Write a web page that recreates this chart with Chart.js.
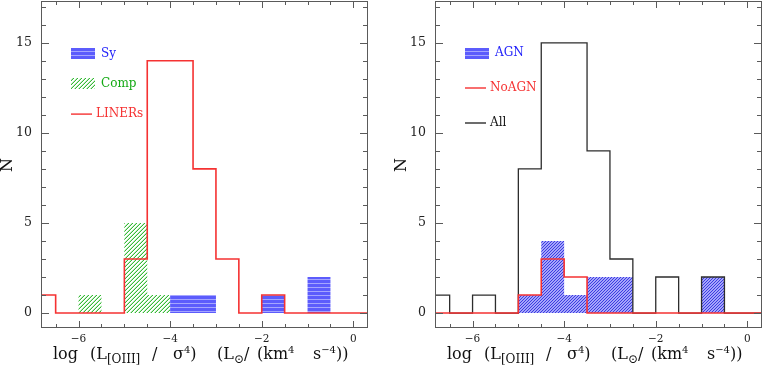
<!DOCTYPE html>
<html><head><meta charset="utf-8">
<script src="https://cdn.jsdelivr.net/npm/chart.js@4/dist/chart.umd.min.js"></script>
<style>
html,body{margin:0;padding:0;background:#fff;}
#wrap{position:relative;width:763px;height:369px;overflow:hidden;background:#fff;}
canvas{position:absolute;top:0;display:block;}
.xt{position:absolute;top:344px;width:330px;height:24px;font-family:"DejaVu Serif";font-size:16px;line-height:20px;white-space:pre;color:#111;}
.xt span{position:absolute;top:0;}
.xt sub{font-size:12px;vertical-align:-4px;line-height:0;}
.xt sup{font-size:10px;vertical-align:6px;line-height:0;}
.yt{position:absolute;top:155px;font-family:"DejaVu Serif";font-size:16px;line-height:20px;color:#111;transform:translateX(-50%) rotate(-90deg);}
</style></head>
<body>
<div id="wrap">
<canvas id="c1" width="394" height="369" style="left:0"></canvas>
<canvas id="c2" width="369" height="369" style="left:394px"></canvas>
<div class="yt" style="left:7px">N</div>
<div class="yt" style="left:401px">N</div>
<div class="xt" style="left:41px"><span style="left:12px">log</span><span style="left:49px">(L<sub>[OIII]</sub></span><span style="left:111px">/</span><span style="left:132px">σ<sup>4</sup>)</span><span style="left:176px">(L<sub>⊙</sub>/</span><span style="left:216px">(km<sup>4</sup></span><span style="left:272px">s<sup>−4</sup>))</span></div>
<div class="xt" style="left:435px"><span style="left:12px">log</span><span style="left:49px">(L<sub>[OIII]</sub></span><span style="left:111px">/</span><span style="left:132px">σ<sup>4</sup>)</span><span style="left:176px">(L<sub>⊙</sub>/</span><span style="left:216px">(km<sup>4</sup></span><span style="left:272px">s<sup>−4</sup>))</span></div>
</div>
<script>
// ---- data ----
const binEdges = [-7,-6.5,-6,-5.5,-5,-4.5,-4,-3.5,-3,-2.5,-2,-1.5,-1,-0.5,0,0.5];
const syCounts    = [0,0,0,0,0,0,1,1,0,0,1,0,2,0,0];
const compCounts  = [0,0,1,0,5,1,0,0,0,0,0,0,0,0,0];
const linerCounts = [1,0,0,0,3,14,14,8,3,0,1,0,0,0,0];
const agnCounts   = [0,0,0,0,1,4,1,2,2,0,0,0,2,0,0];
const noAgnCounts = [0,0,0,0,1,3,2,0,0,0,0,0,0,0,0];
const allCounts   = [1,0,1,0,8,15,15,9,3,0,2,0,2,0,0];
const xTickValues = [-6,-4,-2,0];
const yTickValues = [0,5,10,15];
const leftLabels  = ['Sy','Comp','LINERs'];
const rightLabels = ['AGN','NoAGN','All'];

function steps(counts){
  return binEdges.map((e,i)=>({x:e, y:counts[Math.min(i,counts.length-1)]}));
}

// ---- patterns ----
function makePattern(w,h,fn){
  const c=document.createElement('canvas'); c.width=w; c.height=h;
  const g=c.getContext('2d'); const img=g.createImageData(w,h);
  for(let y=0;y<h;y++)for(let x=0;x<w;x++){
    const col=fn(x,y); const k=(y*w+x)*4;
    img.data[k]=col[0];img.data[k+1]=col[1];img.data[k+2]=col[2];img.data[k+3]=col[3];
  }
  g.putImageData(img,0,0);
  return document.createElement('canvas').getContext('2d').createPattern(c,'repeat');
}
const stripePat = makePattern(4,4,(x,y)=> y===3?[165,165,255,255]:[92,92,252,255]);
const greenPat  = makePattern(4,4,(x,y)=> ((x+y)%4===3)?[55,185,55,255]:(((x+y)%4===2)?[190,235,190,255]:[255,255,255,0]));
const agnPat    = makePattern(3,3,(x,y)=> ((x+y)%3===2)?[60,60,225,255]:[165,165,250,255]);

const RED='rgb(245,50,50)', BLACK='rgb(45,45,45)';

// ---- plugins ----
const framePlugin={
  id:'frame',
  afterDraw(chart){
    const {ctx,chartArea:a,scales:{x,y}}=chart;
    ctx.save();
    ctx.strokeStyle='#5a5a5a'; ctx.lineWidth=1;
    ctx.strokeRect(Math.round(a.left)+0.5,Math.round(a.top)+0.5,Math.round(a.right-a.left)-1,Math.round(a.bottom-a.top)-1);
    ctx.beginPath();
    for(let v=Math.ceil(x.min*2)/2; v<=x.max; v+=0.5){
      const px=Math.round(x.getPixelForValue(v))+0.5;
      const len=(Math.abs(v%2)<1e-9)?7:4;
      ctx.moveTo(px,a.bottom); ctx.lineTo(px,a.bottom-len);
      ctx.moveTo(px,a.top); ctx.lineTo(px,a.top+len);
    }
    for(let v=Math.ceil(y.min); v<=y.max; v+=1){
      const py=Math.round(y.getPixelForValue(v))+0.5;
      const len=(v%5===0)?8:5;
      ctx.moveTo(a.left,py); ctx.lineTo(a.left+len,py);
      ctx.moveTo(a.right,py); ctx.lineTo(a.right-len,py);
    }
    ctx.stroke();
    ctx.restore();
  }
};
const legendPlugin={
  id:'histLegend',
  afterDraw(chart,args,opts){
    const {ctx,chartArea:a}=chart;
    ctx.save();
    ctx.font='12px "DejaVu Serif"'; ctx.textBaseline='middle';
    chart.data.datasets.forEach((ds,i)=>{
      const cy=a.top+opts.y0+i*opts.dy, x0=a.left+opts.x;
      if(ds.legendKind==='box'){
        ctx.fillStyle=ds.legendFill; ctx.fillRect(x0,Math.round(cy-5.5),24,11);
        ctx.fillStyle=ds.legendColor; ctx.fillText(ds.label,x0+30,cy);
      } else {
        ctx.strokeStyle=ds.borderColor; ctx.lineWidth=1.4;
        ctx.beginPath(); ctx.moveTo(x0,cy); ctx.lineTo(x0+21,cy); ctx.stroke();
        ctx.fillStyle=ds.legendColor; ctx.fillText(ds.label,x0+25,cy);
      }
    });
    ctx.restore();
  }
};

function zeroPad(s){s.paddingTop=0;s.paddingBottom=0;s.paddingLeft=0;s.paddingRight=0;}

function baseOptions(legendOpts,padRight){
  return {
    responsive:false, animation:false,
    layout:{padding:{top:1,right:padRight,left:0,bottom:0}},
    plugins:{legend:{display:false},tooltip:{enabled:false},histLegend:legendOpts},
    elements:{point:{radius:0}},
    scales:{
      x:{type:'linear',min:-6.82,max:0.32,
         grid:{display:false,drawTicks:false},border:{display:false},
         afterBuildTicks(s){s.ticks=xTickValues.map(v=>({value:v}));},
         afterFit(s){s.height=41;zeroPad(s);},
         ticks:{padding:5,color:'#222',font:{family:'DejaVu Serif',size:10.5},maxRotation:0,
                callback:v=>String(v).replace('-','\u2212')}},
      y:{type:'linear',min:-0.83,max:17.32,
         grid:{display:false,drawTicks:false},border:{display:false},
         afterBuildTicks(s){s.ticks=yTickValues.map(v=>({value:v}));},
         afterFit(s){s.width=41;zeroPad(s);},
         ticks:{padding:9,color:'#222',font:{family:'DejaVu Serif',size:12.5}}}
    }
  };
}

new Chart(document.getElementById('c1'),{
  type:'line',
  data:{datasets:[
    {label:leftLabels[0],data:steps(syCounts),stepped:true,borderWidth:0,borderColor:'rgba(0,0,0,0)',
     fill:'origin',backgroundColor:stripePat,order:2,legendKind:'box',legendFill:stripePat,legendColor:'rgb(30,30,250)'},
    {label:leftLabels[1],data:steps(compCounts),stepped:true,borderWidth:0,borderColor:'rgba(0,0,0,0)',
     fill:'origin',backgroundColor:greenPat,order:3,legendKind:'box',legendFill:greenPat,legendColor:'rgb(20,170,20)'},
    {label:leftLabels[2],data:steps(linerCounts),stepped:true,borderWidth:1.6,borderColor:RED,
     fill:false,order:0,legendKind:'line',legendColor:RED}
  ]},
  options:baseOptions({x:30,y0:52.5,dy:30.3},26),
  plugins:[framePlugin,legendPlugin]
});

new Chart(document.getElementById('c2'),{
  type:'line',
  data:{datasets:[
    {label:rightLabels[0],data:steps(agnCounts),stepped:true,borderWidth:0,borderColor:'rgba(0,0,0,0)',
     fill:'origin',backgroundColor:agnPat,order:2,legendKind:'box',legendFill:stripePat,legendColor:'rgb(30,30,250)'},
    {label:rightLabels[1],data:steps(noAgnCounts),stepped:true,borderWidth:1.6,borderColor:RED,
     fill:false,order:0,legendKind:'line',legendColor:RED},
    {label:rightLabels[2],data:steps(allCounts),stepped:true,borderWidth:1.3,borderColor:BLACK,
     fill:false,order:1,legendKind:'line',legendColor:'rgb(20,20,20)'}
  ]},
  options:baseOptions({x:30,y0:52,dy:35},1),
  plugins:[framePlugin,legendPlugin]
});
</script>
</body></html>
